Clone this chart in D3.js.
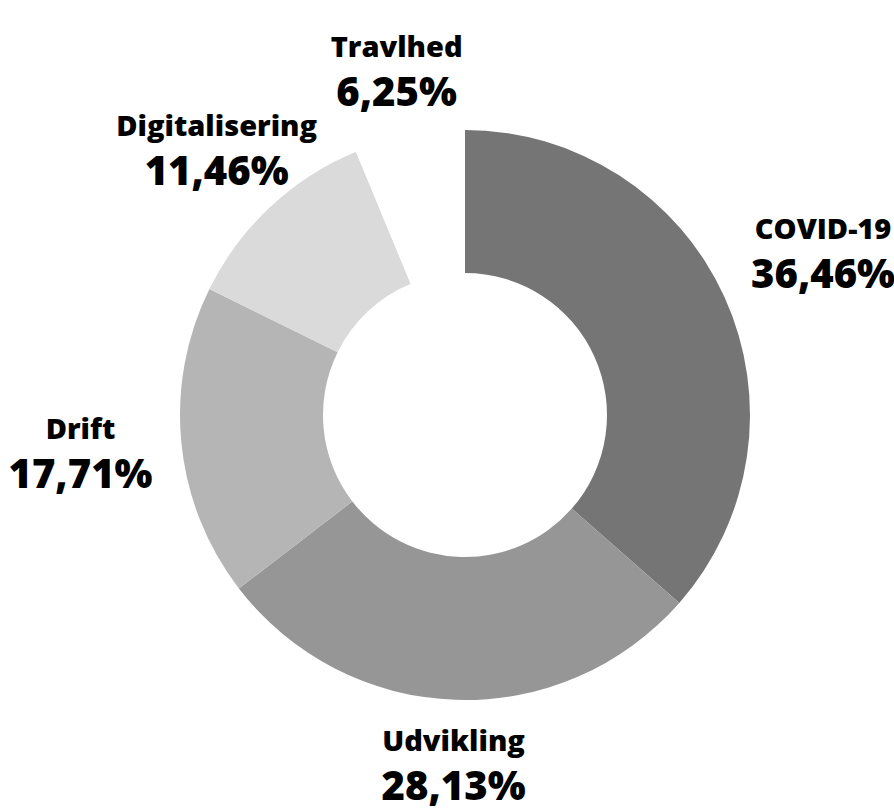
<!DOCTYPE html>
<html>
<head>
<meta charset="utf-8">
<script src="https://cdn.jsdelivr.net/npm/d3@7"></script>
<style>
  body { margin: 0; background: #fff; }
  .lbl text { font-family: "Open Sans", Lato, sans-serif; font-weight: 800; fill: #000; text-anchor: middle; }
</style>
</head>
<body>
<div id="Donut"></div>
<script>
let categories = ["COVID-19", "Udvikling", "Drift", "Digitalisering", "Travlhed"],
  shares = [36.46, 28.13, 17.71, 11.46, 6.25],
  colors = ["#757575", "#969696", "#b5b5b5", "#dadada", "#ffffff"];

let drawDonut = () => {
  var width = 894,
    height = 808,
    cx = 465,
    cy = 415,
    outer = 285,
    inner = 142,
    gap = 29;

  var showData = categories.map((c, i) => ({ name: c, val: shares[i], color: colors[i] }));

  var svg = d3
    .select("#Donut")
    .append("svg")
    .attr("width", width)
    .attr("height", height)
    .append("g")
    .attr("transform", `translate(${cx}, ${cy})`);

  var pie = d3.pie().sort(null).value((d) => d.val),
    arc = d3.arc().innerRadius(inner).outerRadius(outer),
    fmt = d3.formatLocale({ decimal: ",", thousands: ".", grouping: [3], currency: ["", " kr."] }).format(".2f");

  var arcs = pie(showData);

  // draw slices
  svg
    .selectAll("path")
    .data(arcs)
    .enter()
    .append("path")
    .attr("d", arc)
    .style("fill", (d) => d.data.color);

  // labels outside, pushed out so the box edge sits a gap away from the ring
  var lbl = svg
    .selectAll(".lbl")
    .data(arcs)
    .enter()
    .append("g")
    .attr("class", "lbl");

  lbl.append("text").attr("y", -14).style("font-size", "29px").text((d) => d.data.name);
  lbl.append("text").attr("y", 35).style("font-size", "40px").text((d) => fmt(d.data.val) + "%");

  lbl.attr("transform", function (d) {
    var a = (d.startAngle + d.endAngle) / 2,
      vx = Math.sin(a),
      vy = -Math.cos(a),
      w = d3.max(d3.select(this).selectAll("text").nodes(), (n) => n.getComputedTextLength()),
      h = 72,
      s = Math.min(Math.abs(vx) > 1e-6 ? w / 2 / Math.abs(vx) : Infinity, Math.abs(vy) > 1e-6 ? h / 2 / Math.abs(vy) : Infinity),
      r = outer + gap + s;
    return `translate(${vx * r}, ${vy * r})`;
  });
};

drawDonut();
</script>
</body>
</html>
